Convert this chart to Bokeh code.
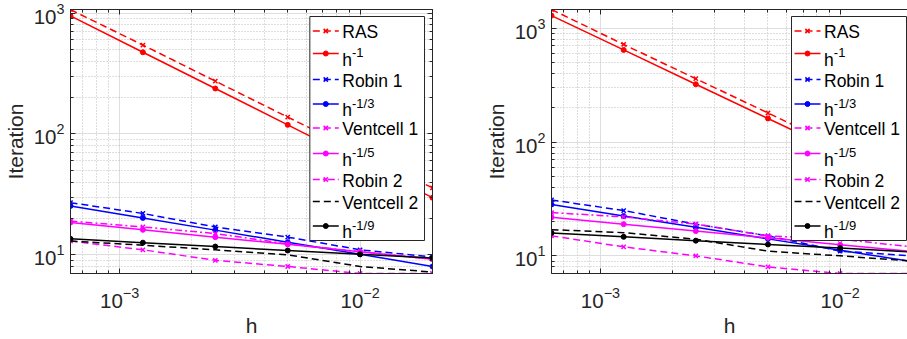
import numpy as np
from bokeh.plotting import figure
from bokeh.models import LogAxis, FixedTicker, Range1d
from bokeh.core.properties import value
from bokeh.layouts import row
from bokeh.embed import file_html
from bokeh.resources import INLINE

h = [1/1600, 1/800, 1/400, 1/200, 1/100, 1/50]

# tick positions
x_major = [1e-3, 1e-2]
x_minor = [6e-4, 7e-4, 8e-4, 9e-4, 2e-3, 3e-3, 4e-3, 5e-3, 6e-3, 7e-3, 8e-3, 9e-3, 2e-2]
y_major = [10, 100, 1000]
y_minor = [7, 8, 9, 20, 30, 40, 50, 60, 70, 80, 90, 200, 300, 400, 500, 600, 700, 800, 900]

# left panel values
L_ras = [1070, 545, 274, 138, 70, 35.8]
L_hm1 = [950, 475, 238, 119, 59.4, 29.7]
L_robin1 = [27, 22, 17, 14, 11, 9.6]
L_hm13 = [25.4, 20.2, 16.0, 12.7, 10.1, 8.0]
L_vent1 = [13, 11, 9, 8, 7, 7]
L_hm15 = [18.5, 16.1, 14.0, 12.2, 10.6, 9.2]
L_robin2 = [19, 17, 15, 12.3, 10.6, 9.2]
L_vent2 = [13, 12, 11, 10, 8, 7.2]
L_hm19 = [13.55, 12.6, 11.7, 10.85, 10.1, 9.4]

# right panel values
R_ras = [1460, 720, 360, 180, 90, 45]
R_hm1 = [1290, 645, 322, 161, 80.7, 40.3]
R_robin1 = [31, 25, 19, 15, 11, 10]
R_hm13 = [28.3, 22.4, 17.8, 14.1, 11.2, 8.9]
R_vent1 = [15, 12, 10, 8, 7, 7]
R_hm15 = [21.8, 19.0, 16.5, 14.4, 12.5, 10.9]
R_robin2 = [24, 22, 19, 15, 14, 12]
R_vent2 = [17, 16, 14, 11, 10, 9]
R_hm19 = [15.9, 14.7, 13.6, 12.6, 11.7, 10.8]

labels = ["RAS", "h", "Robin 1", "h", "Ventcell 1", "h", "Robin 2", "Ventcell 2", "h"]
supers = [None, "-1", None, "-1/3", None, "-1/5", None, None, "-1/9"]
colors = ["#FF0000", "#FF0000", "#0000FF", "#0000FF", "#FF00FF", "#FF00FF", "#FF00FF", "#000000", "#000000"]
dashes = ["7 4", "solid", "7 4", "solid", "7 4", "solid", "7 3 2 3", "7 4", "solid"]
markers = ["x", "circle", "x", "circle", "x", "circle", "x", None, "circle"]

FONT = "Liberation Sans"
AX = "#262626"
FRAME_H = 264
# legend layout, pixels relative to frame top-left
LEG_BOX = (240, 355, 7, 231)
LEG_ROWS = [21.5, 44, 70, 94.5, 118.5, 144, 170, 192, 216.5]
LEG_LINE = (243, 269)
LEG_TEXT_X = 272.5


def style_axis(ax, show_labels=True):
    ax.axis_line_color = AX
    ax.axis_line_width = 1
    ax.major_tick_line_color = AX
    ax.minor_tick_line_color = AX
    ax.major_tick_in = 5
    ax.major_tick_out = 0
    ax.minor_tick_in = 3
    ax.minor_tick_out = 0
    ax.major_label_text_font = FONT
    ax.major_label_text_color = AX
    if show_labels:
        ax.major_label_text_font_size = "20.5px"
    else:
        ax.major_label_text_font_size = "2px"
        ax.major_label_text_alpha = 0
        ax.major_label_standoff = 0


def panel(series, y_end, x_end, width, mbl, mbr, right_axis):
    frame_w = width - mbl - mbr
    x0, x1, y0, y1 = h[0], x_end, 7, y_end
    p = figure(x_axis_type="log", y_axis_type="log",
               x_range=Range1d(x0, x1), y_range=Range1d(y0, y1),
               width=width, height=339, output_backend="svg", toolbar_location=None,
               min_border_left=mbl, min_border_right=mbr, min_border_top=9, min_border_bottom=66)
    p.background_fill_color = "white"
    p.border_fill_color = "white"
    p.outline_line_color = AX if right_axis else None
    p.xaxis.ticker = FixedTicker(ticks=x_major, minor_ticks=x_minor)
    p.yaxis.ticker = FixedTicker(ticks=y_major, minor_ticks=y_minor)
    for ax in (p.xaxis[0], p.yaxis[0]):
        style_axis(ax)
        ax.axis_label_text_font = FONT
        ax.axis_label_text_font_size = "21px"
        ax.axis_label_text_font_style = "normal"
        ax.axis_label_text_color = AX
    p.xaxis.axis_label = "h"
    p.yaxis.axis_label = "Iteration"
    p.xaxis.major_label_standoff = 13
    p.xaxis.axis_label_standoff = 3
    p.yaxis.major_label_standoff = 6
    p.yaxis.axis_label_standoff = 4
    top = LogAxis(ticker=FixedTicker(ticks=x_major, minor_ticks=x_minor))
    style_axis(top, False)
    p.add_layout(top, "above")
    if right_axis:
        r = LogAxis(ticker=FixedTicker(ticks=y_major, minor_ticks=y_minor))
        style_axis(r, False)
        p.add_layout(r, "right")
    for g in (p.xgrid[0], p.ygrid[0]):
        g.grid_line_color = "#dedede"
        g.grid_line_width = 1
        g.minor_grid_line_color = "#bdbdbd"
        g.minor_grid_line_dash = "1 2"

    for i, ys in enumerate(series):
        p.line(h, ys, line_color=colors[i], line_width=1.5, line_dash=dashes[i])
        if markers[i] == "x":
            p.scatter(h, ys, marker="x", size=6, line_color=colors[i], line_width=1.5)
        elif markers[i] == "circle":
            p.scatter(h, ys, marker="circle", size=5, line_color=colors[i], fill_color=colors[i])

    # legend drawn from frame-relative pixel layout
    lx0, lx1, ly0, ly1 = np.log10(x0), np.log10(x1), np.log10(y0), np.log10(y1)

    def X(px):
        return 10 ** (lx0 + px / frame_w * (lx1 - lx0))

    def Y(py):
        return 10 ** (ly1 - py / FRAME_H * (ly1 - ly0))

    bl, br, bt, bb = LEG_BOX
    p.quad(left=[X(bl)], right=[X(br)], top=[Y(bt)], bottom=[Y(bb)],
           fill_color="white", line_color=AX, line_width=1)
    txt = dict(text_font=value(FONT), text_color="#000000", text_baseline="alphabetic",
               text_align="left", text_line_height=1.0)
    for i, ry in enumerate(LEG_ROWS):
        p.segment(x0=[X(LEG_LINE[0])], x1=[X(LEG_LINE[1])], y0=[Y(ry)], y1=[Y(ry)],
                  line_color=colors[i], line_width=1.5, line_dash=dashes[i])
        mx = X((LEG_LINE[0] + LEG_LINE[1]) / 2)
        if markers[i] == "x":
            p.scatter([mx], [Y(ry)], marker="x", size=6, line_color=colors[i], line_width=1.5)
        elif markers[i] == "circle":
            p.scatter([mx], [Y(ry)], marker="circle", size=5, line_color=colors[i], fill_color=colors[i])
        if supers[i] is None:
            p.text([X(LEG_TEXT_X)], [Y(ry + 1)], text=[labels[i]],
                   text_font_size=value("17.5px"), **txt)
        else:
            p.text([X(LEG_TEXT_X)], [Y(ry + 6)], text=[labels[i]],
                   text_font_size=value("17.5px"), **txt)
            p.text([X(LEG_TEXT_X + 9.8)], [Y(ry - 1)], text=[supers[i]],
                   text_font_size=value("13px"), **txt)
    return p


left = panel([L_ras, L_hm1, L_robin1, L_hm13, L_vent1, L_hm15, L_robin2, L_vent2, L_hm19],
             1073, 1/50, 455, 69, 23, True)
right = panel([R_ras, R_hm1, R_robin1, R_hm13, R_vent1, R_hm15, R_robin2, R_vent2, R_hm19],
              1460, 0.0191, 452, 96, 0, False)

layout = row(left, right)
open("out.html", "w").write(file_html(layout, INLINE))
